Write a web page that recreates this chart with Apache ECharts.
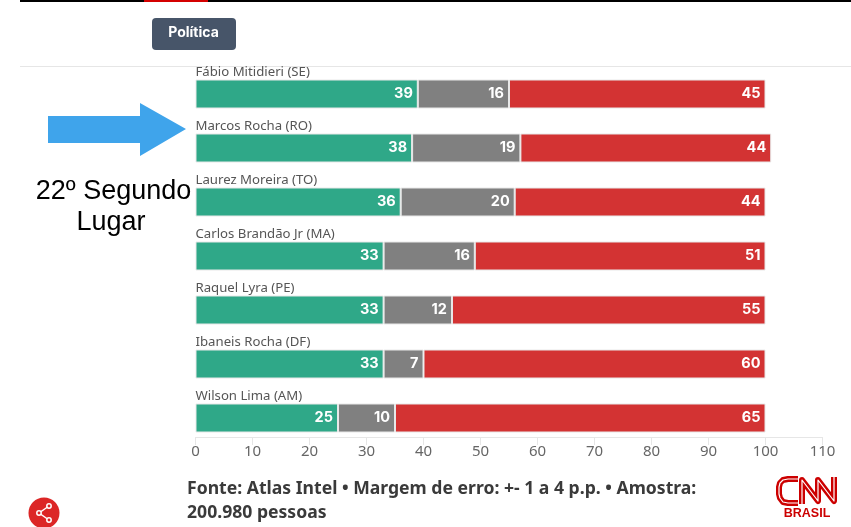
<!DOCTYPE html>
<html><head><meta charset="utf-8">
<style>html,body{margin:0;padding:0;background:#fff}#c{width:851px;height:527px}</style>
<script src="https://cdn.jsdelivr.net/npm/echarts@6/dist/echarts.min.js"></script>
</head><body><div id="c"></div>
<script>
const names = ["Fábio Mitidieri (SE)","Marcos Rocha (RO)","Laurez Moreira (TO)","Carlos Brandão Jr (MA)","Raquel Lyra (PE)","Ibaneis Rocha (DF)","Wilson Lima (AM)"];
const approve = [39,38,36,33,33,33,25];
const neutral = [16,19,20,16,12,7,10];
const reject = [45,44,44,51,55,60,65];
const seriesColors = ["#2fa888","#808080","#d33333"];
const sansFont = "'Noto Sans', sans-serif";
const chart = echarts.init(document.getElementById('c'), null, {renderer:'canvas'});
const mk = (name,data,color)=>({
  name,type:'bar',stack:'t',data,barWidth:29,
  itemStyle:{color,borderColor:'#e8e8e8',borderWidth:1},
  label:{show:true,position:'insideRight',distance:5,color:'#fff',fontWeight:'bold',fontSize:14.5,fontFamily:"Inter, sans-serif"}
});
const cnnC = [[798,503],[788,503],[783,502],[780,498],[779,494],[779,487],[780,483],[783,480],[788,479],[798,479]];
const cnnN = [[802,504],[802,480],[818,501],[818,480],[834,501],[834,477]];
const logoLine = (points)=>[
  {type:'polyline',shape:{points},style:{fill:null,stroke:'#cc0000',lineWidth:6,lineJoin:'round'}},
  {type:'polyline',shape:{points},style:{fill:null,stroke:'#fff',lineWidth:1.2,lineJoin:'round'}}
];
chart.setOption({
  animation:false,
  backgroundColor:'#fff',
  grid:{left:195.5,top:67,width:627,height:378,containLabel:false},
  xAxis:{type:'value',min:0,max:110,interval:10,offset:-8,
    axisLine:{show:true,lineStyle:{color:'#e6e6e6'}},
    axisTick:{show:true,length:8,lineStyle:{color:'#e6e6e6'}},
    splitLine:{show:false},
    axisLabel:{color:'#666',fontSize:15,margin:7,fontFamily:sansFont}},
  yAxis:{type:'category',inverse:true,data:names,z:5,
    axisLine:{show:false},axisTick:{show:false},
    axisLabel:{inside:true,interval:0,margin:0,align:'left',verticalAlign:'bottom',color:'#555',fontSize:13.2,fontFamily:sansFont,padding:[0,0,15,0]}},
  series:[mk('Aprova',approve,seriesColors[0]),mk('Neutro',neutral,seriesColors[1]),mk('Desaprova',reject,seriesColors[2])],
  graphic:[
    {type:'rect',shape:{x:20,y:0,width:831,height:2},style:{fill:'#000'}},
    {type:'rect',shape:{x:144,y:0,width:64,height:2},style:{fill:'#d40000'}},
    {type:'rect',shape:{x:152,y:18,width:84,height:32,r:4},style:{fill:'#475569'}},
    {type:'text',x:193.5,y:33,style:{text:'Política',fill:'#fff',font:"bold 14px Inter",textAlign:'center',textVerticalAlign:'middle'}},
    {type:'rect',shape:{x:20,y:66,width:831,height:1},style:{fill:'#e6e6e6'}},
    {type:'polygon',shape:{points:[[48,116],[140,116],[140,103],[186,129],[140,156],[140,143],[48,143]]},style:{fill:'#3fa4eb'}},
    {type:'text',x:113.5,y:192,style:{text:'22º Segundo',fill:'#000',font:"27px 'Liberation Sans'",textAlign:'center',textVerticalAlign:'middle'}},
    {type:'text',x:111,y:223,style:{text:'Lugar',fill:'#000',font:"27px 'Liberation Sans'",textAlign:'center',textVerticalAlign:'middle'}},
    {type:'text',x:187,y:489,style:{text:'Fonte: Atlas Intel • Margem de erro: +- 1 a 4 p.p. • Amostra:',fill:'#3a3a3a',font:"bold 17.6px 'Noto Sans'",textVerticalAlign:'middle'}},
    {type:'text',x:187,y:513,style:{text:'200.980 pessoas',fill:'#3a3a3a',font:"bold 17.6px 'Noto Sans'",textVerticalAlign:'middle'}},
    {type:'circle',shape:{cx:44,cy:513,r:15.5},style:{fill:'#dc2626'}},
    {type:'polyline',shape:{points:[[49,506],[39,513],[49,520]]},style:{stroke:'#fff',lineWidth:1.5,fill:null}},
    {type:'circle',shape:{cx:49,cy:506,r:2.2},style:{fill:'#dc2626',stroke:'#fff',lineWidth:1.5}},
    {type:'circle',shape:{cx:39,cy:513,r:2.2},style:{fill:'#dc2626',stroke:'#fff',lineWidth:1.5}},
    {type:'circle',shape:{cx:49,cy:520,r:2.2},style:{fill:'#dc2626',stroke:'#fff',lineWidth:1.5}},
    ...logoLine(cnnC),
    ...logoLine(cnnN),
    {type:'text',x:807,y:514,style:{text:'BRASIL',fill:'#cc0000',font:"bold 12.5px 'Liberation Sans'",textAlign:'center',textVerticalAlign:'middle'}}
  ]
});
</script></body></html>
